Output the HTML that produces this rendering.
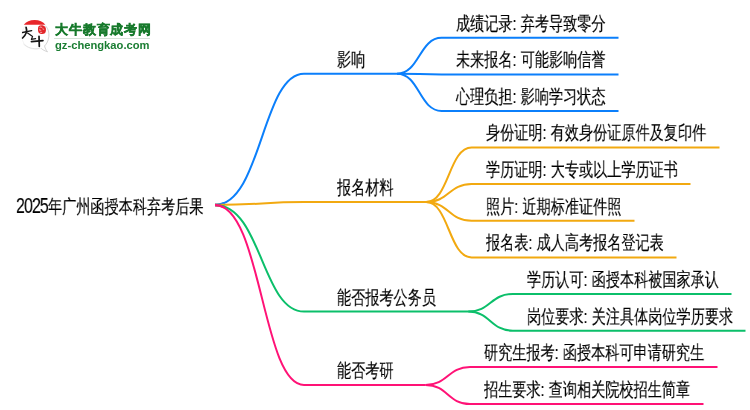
<!DOCTYPE html><html><head><meta charset="utf-8"><style>
html,body{margin:0;padding:0;background:#fff;width:750px;height:410px;overflow:hidden}
body{position:relative;font-family:"Liberation Sans",sans-serif}
svg{position:absolute;left:0;top:0}
.lg1{position:absolute;left:54.6px;top:22.3px;font-size:12.8px;line-height:16px;font-weight:bold;color:#177a2c;white-space:nowrap;will-change:transform;letter-spacing:0.85px;-webkit-text-stroke:0.45px #177a2c}
.lg2{position:absolute;left:55px;top:39.2px;font-size:11.2px;line-height:12px;font-weight:bold;color:#1a7d32;white-space:nowrap;will-change:transform}
.lgl{position:absolute;left:54px;top:38px;width:96px;height:1.2px;background:#d5e3d8}
.t{position:absolute;white-space:nowrap;font-size:19px;line-height:19px;color:#000;transform-origin:0 0;will-change:transform;-webkit-text-stroke:0.15px #000}
</style></head><body>

<svg width="750" height="410" viewBox="0 0 750 410" fill="none" stroke-width="2.0">
<path d="M215 205C261.5 205 262 73.7 304 73.7L397.1 73.7" stroke="#0b7ffb"/>
<path d="M397.1 73.7C419.35 73.7 419.35 37.8 441.6 37.8L618.5 37.8" stroke="#0b7ffb"/>
<path d="M397.1 73.7C419.35 73.7 419.35 74.4 441.6 74.4L618.5 74.4" stroke="#0b7ffb"/>
<path d="M397.1 73.7C419.35 73.7 419.35 110.9 441.6 110.9L618.5 110.9" stroke="#0b7ffb"/>
<path d="M215 205C261.5 205 262 202.1 304 202.1L426.1 202.1" stroke="#f2a910"/>
<path d="M426.1 202.1C448.85 202.1 448.85 147.5 471.6 147.5L719.5 147.5" stroke="#f2a910"/>
<path d="M426.1 202.1C448.85 202.1 448.85 184 471.6 184L690.5 184" stroke="#f2a910"/>
<path d="M426.1 202.1C448.85 202.1 448.85 220.8 471.6 220.8L634.5 220.8" stroke="#f2a910"/>
<path d="M426.1 202.1C448.85 202.1 448.85 257.4 471.6 257.4L676.5 257.4" stroke="#f2a910"/>
<path d="M215 205C261.5 205 262 311.6 304 311.6L468.2 311.6" stroke="#0bbf6a"/>
<path d="M468.2 311.6C490.5 311.6 490.5 294 512.8 294L731.5 294" stroke="#0bbf6a"/>
<path d="M468.2 311.6C490.5 311.6 490.5 330.7 512.8 330.7L745.5 330.7" stroke="#0bbf6a"/>
<path d="M215 205C261.5 205 262 384.9 304 384.9L425.5 384.9" stroke="#ff1276"/>
<path d="M425.5 384.9C447.75 384.9 447.75 367 470 367L717.5 367" stroke="#ff1276"/>
<path d="M425.5 384.9C447.75 384.9 447.75 404 470 404L703.5 404" stroke="#ff1276"/>
<path d="M215 205C218.25 205 221.28 204.36 224.12 203.16" stroke="#0b7ffb" stroke-width="2.35"/>
<path d="M215 205C218.25 205 221.28 204.99 224.12 204.96" stroke="#f2a910" stroke-width="2.35"/>
<path d="M215 205C218.25 205 221.28 205.52 224.12 206.49" stroke="#0bbf6a" stroke-width="2.35"/>
<path d="M215 205C218.25 205 221.28 205.88 224.12 207.52" stroke="#ff1276" stroke-width="2.35"/>
</svg>
<div class="t" style="left:337px;top:49.7px;transform:scaleX(0.744)">影响</div>
<div class="t" style="left:455.6px;top:13.7px;transform:scaleX(0.744)">成绩记录: 弃考导致零分</div>
<div class="t" style="left:455.6px;top:50.3px;transform:scaleX(0.744)">未来报名: 可能影响信誉</div>
<div class="t" style="left:455.6px;top:86.8px;transform:scaleX(0.744)">心理负担: 影响学习状态</div>
<div class="t" style="left:337px;top:178.1px;transform:scaleX(0.744)">报名材料</div>
<div class="t" style="left:485.6px;top:123.4px;transform:scaleX(0.744)">身份证明: 有效身份证原件及复印件</div>
<div class="t" style="left:485.6px;top:159.9px;transform:scaleX(0.744)">学历证明: 大专或以上学历证书</div>
<div class="t" style="left:485.6px;top:196.7px;transform:scaleX(0.744)">照片: 近期标准证件照</div>
<div class="t" style="left:485.6px;top:233.3px;transform:scaleX(0.744)">报名表: 成人高考报名登记表</div>
<div class="t" style="left:337px;top:287.6px;transform:scaleX(0.744)">能否报考公务员</div>
<div class="t" style="left:526.8px;top:269.9px;transform:scaleX(0.744)">学历认可: 函授本科被国家承认</div>
<div class="t" style="left:526.8px;top:306.6px;transform:scaleX(0.744)">岗位要求: 关注具体岗位学历要求</div>
<div class="t" style="left:337px;top:360.9px;transform:scaleX(0.744)">能否考研</div>
<div class="t" style="left:484px;top:342.9px;transform:scaleX(0.744)">研究生报考: 函授本科可申请研究生</div>
<div class="t" style="left:484px;top:379.9px;transform:scaleX(0.744)">招生要求: 查询相关院校招生简章</div>
<div class="t" style="left:15.5px;top:196.8px;transform:scaleX(0.744)"><span style="font-size:21.5px;letter-spacing:-1.25px">2025</span>年广州函授本科弃考后果</div>
<svg width="60" height="60" viewBox="0 0 60 60" style="left:0;top:0">
<path d="M47.5 51.8 C44 50.5 42.5 49.6 41.2 48.4 C32 51.5 22.5 46.5 21.8 36.8 C21.2 28.5 27 21.5 35 21.3 C43.5 21.2 49.5 28 48.8 36.5 C48.4 41 46.5 44 44.5 46 C45.2 48.5 46.3 50.3 47.5 51.8 Z" fill="#fff" stroke="#ececec" stroke-width="0.6"/>
<path d="M45.6 25.8 C48.4 28.8 49.3 33 48.8 36.5 C48.4 41 46.5 44 44.5 46 C45.2 48.5 46.3 50.3 47.5 51.8 C44 50.5 42.5 49.6 41.2 48.4" fill="none" stroke="#cfcfcf" stroke-width="0.8"/>
<path d="M23.5 44 C27 47.6 33 49.4 39.5 48.4" fill="none" stroke="#d8d8d8" stroke-width="0.7"/>
<path d="M23.8 24.8 C26 21.6 30 20 34.6 20 C39.2 20 43.2 21.6 45.4 24.8 Z" fill="#e8262a"/>
<g stroke="#151515" fill="none" stroke-linecap="round" stroke-linejoin="round">
<path d="M22.6 32.5 L31.7 30.6" stroke-width="1.3"/>
<path d="M26.1 27.4 C27.2 30.4 26.6 34.2 22.6 38" stroke-width="1.7"/>
<path d="M27.6 33 L32.6 36.4 L31.4 39.4 L35.6 38.6" stroke-width="1.2"/>
<path d="M31.4 41.6 L43 40.6" stroke-width="1.6"/>
<path d="M39 36.4 L39.3 46.4" stroke-width="1.7"/>
</g>
<path d="M38.6 26.2 C40.5 24.8 43.8 25.2 45.3 27 C46.4 29 46.1 31.8 44.9 33.3 C43.2 34.4 40 34.1 38.7 32.7 C37.7 31.2 37.7 28 38.6 26.2 Z" fill="#e3262a"/>
<path d="M39.6 27.6 C40.4 26.8 41.6 26.9 42 27.8 M39 30.2 C39.8 29.6 40.8 29.9 41 30.8 M40.2 32.6 C40.8 32 41.8 32.2 41.9 33 M42.6 28.8 C43.2 28.6 43.8 29 43.6 29.6" stroke="#f8d0d0" stroke-width="0.9" fill="none"/>
</svg>
<div class="lg1">大牛教育成考网</div>
<div class="lg2">gz-chengkao.com</div>
<div class="lgl"></div>

</body></html>
